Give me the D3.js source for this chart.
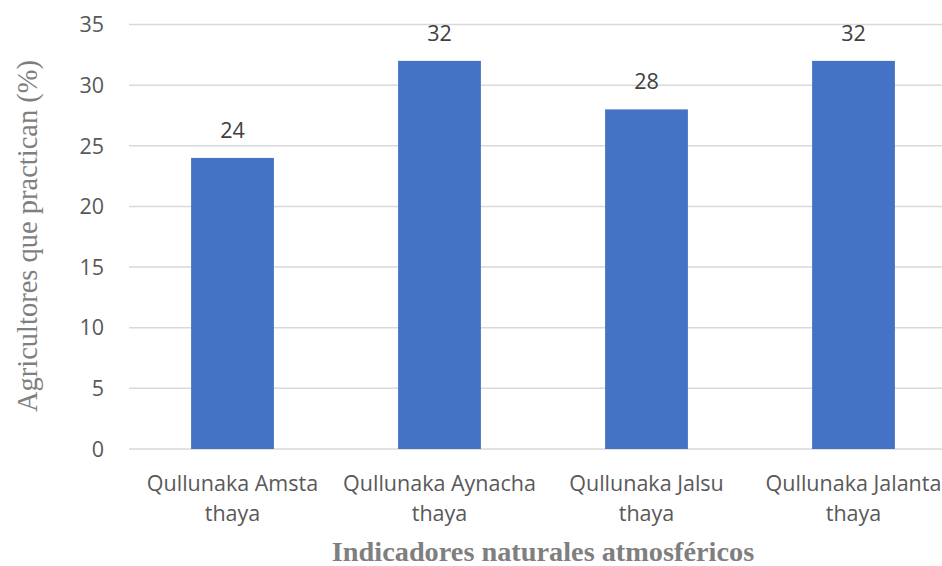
<!DOCTYPE html>
<html>
<head>
<meta charset="utf-8">
<script src="https://cdn.jsdelivr.net/npm/d3@7"></script>
<style>
  html, body { margin: 0; padding: 0; background: #fff; }
  svg { display: block; }
</style>
</head>
<body>
<svg id="chart" width="942" height="566"></svg>
<script>
// Indicator categories (two-line labels) and share of farmers who use each
const categories = [
  ["Qullunaka Amsta", "thaya"],
  ["Qullunaka Aynacha", "thaya"],
  ["Qullunaka Jalsu", "thaya"],
  ["Qullunaka Jalanta", "thaya"]
];
const values = [24, 32, 28, 32];
const yTicks = [0, 5, 10, 15, 20, 25, 30, 35];

const svg = d3.select("#chart");
const plot = { left: 129, right: 957, top: 24.5, bottom: 449 };

const x = d3.scaleBand()
  .domain(categories.map((d, i) => i))
  .range([plot.left, plot.right])
  .paddingInner(0.6)
  .paddingOuter(0.3);

const y = d3.scaleLinear()
  .domain([0, 35])
  .range([plot.bottom, plot.top]);

const tickFont = "'Open Sans', sans-serif";
const serif = "'Liberation Serif', 'Times New Roman', serif";
const sansSize = 21.5;

// horizontal gridlines
svg.append("g")
  .selectAll("line")
  .data(yTicks)
  .join("line")
  .attr("x1", plot.left)
  .attr("x2", plot.right)
  .attr("y1", d => y(d))
  .attr("y2", d => y(d))
  .attr("stroke", "#d9d9d9")
  .attr("stroke-width", 1.5);

// y tick labels
svg.append("g")
  .selectAll("text")
  .data(yTicks)
  .join("text")
  .attr("x", 104)
  .attr("y", d => y(d))
  .attr("dy", "0.36em")
  .attr("text-anchor", "end")
  .attr("font-family", tickFont)
  .attr("font-size", sansSize)
  .attr("fill", "#595959")
  .text(d => d);

// bars
svg.append("g")
  .selectAll("rect")
  .data(values)
  .join("rect")
  .attr("x", (d, i) => x(i))
  .attr("width", x.bandwidth())
  .attr("y", d => y(d))
  .attr("height", d => y(0) - y(d))
  .attr("fill", "#4472c4");

// value labels
svg.append("g")
  .selectAll("text")
  .data(values)
  .join("text")
  .attr("x", (d, i) => x(i) + x.bandwidth() / 2)
  .attr("y", d => y(d) - 20)
  .attr("text-anchor", "middle")
  .attr("font-family", tickFont)
  .attr("font-size", sansSize)
  .attr("fill", "#404040")
  .text(d => d);

// category labels
const cat = svg.append("g")
  .selectAll("text")
  .data(categories)
  .join("text")
  .attr("text-anchor", "middle")
  .attr("font-family", tickFont)
  .attr("font-size", sansSize)
  .attr("fill", "#595959");
cat.selectAll("tspan")
  .data((d, i) => d.map(t => ({ t, i })))
  .join("tspan")
  .attr("x", d => x(d.i) + x.bandwidth() / 2)
  .attr("y", (d, j) => 490.5 + j * 30.5)
  .text(d => d.t);

// axis titles
svg.append("text")
  .attr("transform", `translate(37, 236) rotate(-90)`)
  .attr("text-anchor", "middle")
  .attr("font-family", serif)
  .attr("font-size", 28.5)
  .attr("fill", "#7f7f7f")
  .text("Agricultores que practican (%)");

svg.append("text")
  .attr("x", 543)
  .attr("y", 560.5)
  .attr("text-anchor", "middle")
  .attr("font-family", serif)
  .attr("font-weight", "bold")
  .attr("font-size", 28.3)
  .attr("fill", "#7f7f7f")
  .text("Indicadores naturales atmosféricos");
</script>
</body>
</html>
